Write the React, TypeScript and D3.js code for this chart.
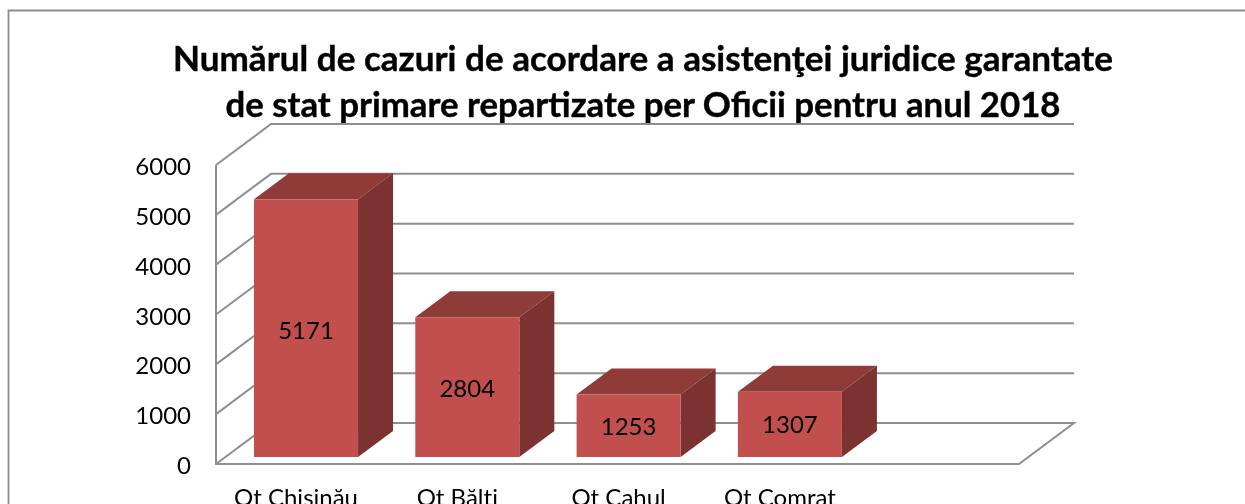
import React from "react";
import * as d3 from "d3";

const titleLines = [
  "Numărul de cazuri de acordare a asistenţei juridice garantate",
  "de stat primare repartizate per Oficii pentru anul 2018",
];
const categories = ["Ot Chişinău", "Ot Bălţi", "Ot Cahul", "Ot Comrat"];
const values = [5171, 2804, 1253, 1307];
const ticks = [0, 1000, 2000, 3000, 4000, 5000, 6000];

const FONT = "Lato, Carlito, 'Open Sans', sans-serif";
const GRID = "#8f8f8f";
const FRONT = "#c0504d";
const TOP = "#8f3a38";
const SIDE = "#7d3130";

// axis geometry
const wallX = 216;
const floorY = 464;
const floorRight = 1019;
const depthX = 55;
const depthY = -41;
const barDepthX = 35;
const barDepthY = -26;
const barBase = 457;

const yAxis = d3.scaleLinear().domain([0, 6000]).range([floorY, 165]);
const barH = (v: number) => yAxis(0) - yAxis(v);
const xBand = d3
  .scaleBand<string>()
  .domain([...categories, ""])
  .range([254, 1003.2])
  .paddingInner(0.355)
  .paddingOuter(0);

const labelNudge = [3, 2, 1, 1];

export default function App() {
  const line = d3.line();
  return (
    <svg
      width={1245}
      height={504}
      viewBox="0 0 1245 504"
      style={{ position: "fixed", left: 0, top: 0, background: "#fff", display: "block" }}
      fontFamily={FONT}
    >
      <defs>
        <filter id="soft" x="0" y="0" width="100%" height="100%" filterUnits="userSpaceOnUse" primitiveUnits="userSpaceOnUse">
          <feGaussianBlur stdDeviation="0.45" />
        </filter>
      </defs>
      <g filter="url(#soft)">
        {/* outer frame */}
        <path d="M8.5,504 V10.5 H1245" fill="none" stroke="#8c8c8c" strokeWidth={1.8} />

        {/* title */}
        {titleLines.map((t, i) => (
          <text
            key={i}
            x={643}
            y={71 + i * 46}
            textAnchor="middle"
            fontSize={34}
            fontWeight={700}
            fill="#000"
            stroke="#000"
            strokeWidth={0.4}
            textLength={i === 0 ? 940 : 835}
            lengthAdjust="spacingAndGlyphs"
          >
            {t}
          </text>
        ))}

        {/* gridlines: side wall + back wall */}
        {ticks.map((t) => {
          const y = yAxis(t);
          return (
            <g key={t}>
              {t > 0 && (
                <path
                  d={line([
                    [wallX, y],
                    [wallX + depthX, y + depthY],
                    [floorRight + depthX, y + depthY],
                  ]) as string}
                  fill="none"
                  stroke={GRID}
                  strokeWidth={2}
                />
              )}
              <text x={191} y={y + 10} textAnchor="end" fontSize={24} fill="#000">
                {t}
              </text>
            </g>
          );
        })}
        {/* vertical axis and floor */}
        <path
          d={line([
            [wallX, yAxis(6000)],
            [wallX, floorY],
            [floorRight, floorY],
            [floorRight + depthX, floorY + depthY],
            [wallX + depthX, floorY + depthY],
            [wallX, floorY],
          ]) as string}
          fill="none"
          stroke={GRID}
          strokeWidth={2}
        />

        {/* bars */}
        {categories.map((c, i) => {
          const x0 = xBand(c) as number;
          const w = xBand.bandwidth();
          const h = barH(values[i]);
          const yTop = barBase - h;
          const x1 = x0 + w;
          return (
            <g key={c}>
              <path
                d={`M${x0},${yTop} l${barDepthX},${barDepthY} h${w} l${-barDepthX},${-barDepthY} Z`}
                fill={TOP}
              />
              <path
                d={`M${x1},${yTop} l${barDepthX},${barDepthY} v${h} l${-barDepthX},${-barDepthY} Z`}
                fill={SIDE}
              />
              <rect x={x0} y={yTop} width={w} height={h} fill={FRONT} />
              <text
                x={x0 + w / 2}
                y={yTop + h / 2 + labelNudge[i] + 8}
                textAnchor="middle"
                fontSize={24}
                fill="#000"
              >
                {values[i]}
              </text>
              <text
                x={x0 + w / 2 - 10}
                y={506}
                textAnchor="middle"
                fontSize={24}
                fill="#000"
              >
                {c}
              </text>
            </g>
          );
        })}
      </g>
    </svg>
  );
}
